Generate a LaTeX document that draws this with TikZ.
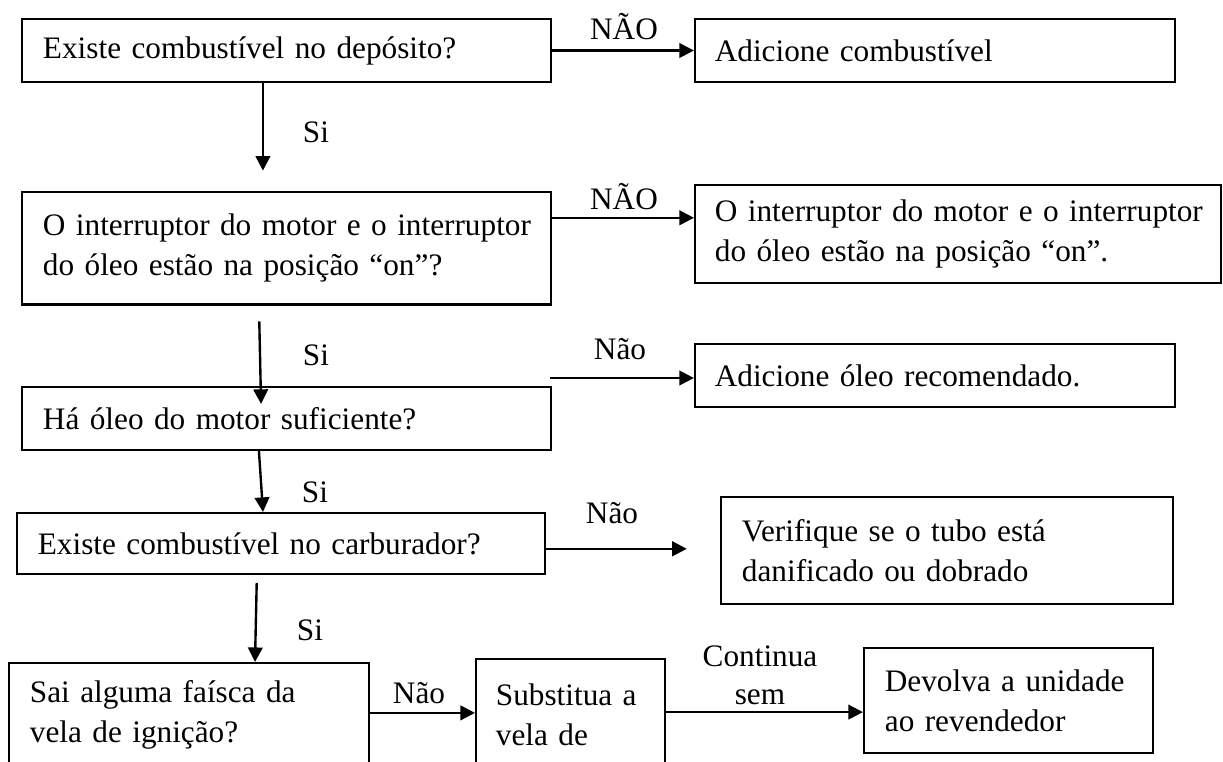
\documentclass[tikz,border=0pt]{standalone}
\usepackage{fontspec}
\setmainfont{Liberation Serif}
\usepackage{tikz}
\usetikzlibrary{positioning, arrows.meta}

\begin{document}
\begin{tikzpicture}[
    x=0.3774pt, y=-0.3774pt,
    every node/.style={font=\fontsize{11.8}{15}\selectfont},
    caixa/.style={draw, line width=0.8pt, align=left, inner xsep=7.9pt, inner ysep=0pt},
    seta/.style={-{Triangle[length=5.5pt, width=5.5pt]}, line width=0.9pt},
    rotulo/.style={inner sep=0pt}
]
\useasboundingbox (0,0) rectangle (1223,762);

% perguntas
\node[caixa, text width=183.8pt, minimum height=23.8pt] (deposito) at (286.5,50.5) {Existe combustível no depósito?};
\node[caixa, text width=183.8pt, minimum height=42.6pt] (interruptor) at (286.5,248) {\mbox{O interruptor do motor e o interruptor}\\do óleo estão na posição “on”?};
\node[caixa, text width=183.8pt, minimum height=23.8pt] (oleo) at (286.5,418.5) {Há óleo do motor suficiente?};
\node[caixa, text width=183.5pt, minimum height=23pt] (carburador) at (281,543.5) {Existe combustível no carburador?};
\node[caixa, text width=120.1pt, minimum height=39.2pt] (faisca) at (189,715) {Sai alguma faísca da\\vela de ignição?};

% acoes
\node[caixa, inner xsep=7.5pt, text width=166.2pt, minimum height=23.8pt] (addcomb) at (935,50.5) {Adicione combustível};
\node[caixa, inner xsep=7.5pt, text width=183.5pt, minimum height=37pt] (ligar) at (958,234) {\mbox{O interruptor do motor e o interruptor}\\do óleo estão na posição “on”.};
\node[caixa, inner xsep=7.5pt, text width=166.2pt, minimum height=23.8pt] (addoleo) at (935,375.5) {Adicione óleo recomendado.};
\node[caixa, text width=154.8pt, minimum height=40.4pt] (tubo) at (947,550.5) {Verifique se o tubo está\\danificado ou dobrado};
\node[caixa, inner xsep=7.5pt, text width=56.3pt, minimum height=42.3pt] (vela) at (570.5,715) {Substitua a\\vela de};
\node[caixa, text width=93.3pt, minimum height=39.6pt] (devolva) at (1008.5,700.5) {Devolva a unidade\\ao revendedor};

% rotulos
\node[rotulo] (nao1) at (624,27) {NÃO};
\node[rotulo] (nao2) at (624,197) {NÃO};
\node[rotulo] (nao3) at (620,349) {Não};
\node[rotulo] (nao4) at (612,513) {Não};
\node[rotulo] (nao5) at (419,693) {Não};
\foreach \i/\xx/\yy in {1/316/132, 2/316/355, 3/315/492, 4/310/630} {
    \node[rotulo] (si\i) at (\xx,\yy) {Si};
}
\node[rotulo] (continua) at (760,656) {Continua};
\node[rotulo] (sem) at (760,697) {sem};

% setas
\draw[seta] (deposito.east) -- (addcomb.west);
\draw[seta, shorten >=7.5pt] ([xshift=-8.9pt]deposito.south) -- ([xshift=-8.9pt]interruptor.north);
\draw[seta] ([yshift=11.4pt]interruptor.east) -- ([yshift=11.4pt]interruptor.east -| ligar.west);
\draw[seta, shorten <=6pt] ([xshift=-10.4pt]interruptor.south) -- ([xshift=-9.6pt, yshift=-6.8pt]oleo.north);
\coordinate (semoleo) at (550,378);
\draw[seta] (semoleo) -- (semoleo -| addoleo.west);
\draw[seta] ([xshift=-10.4pt]oleo.south) -- ([xshift=-6.8pt]carburador.north);
\draw[seta, shorten >=12.5pt] ([yshift=-2pt]carburador.east) -- ([yshift=-2pt]carburador.east -| tubo.west);
\draw[seta, shorten <=3pt] ([xshift=-9.1pt]carburador.south) -- ([xshift=24.9pt]faisca.north);
\draw[seta] ([yshift=0.8pt]faisca.east) -- ([yshift=0.8pt]faisca.east -| vela.west);
\draw[seta] ([yshift=1.1pt]vela.east) -- ([yshift=1.1pt]vela.east -| devolva.west);
\end{tikzpicture}
\end{document}
